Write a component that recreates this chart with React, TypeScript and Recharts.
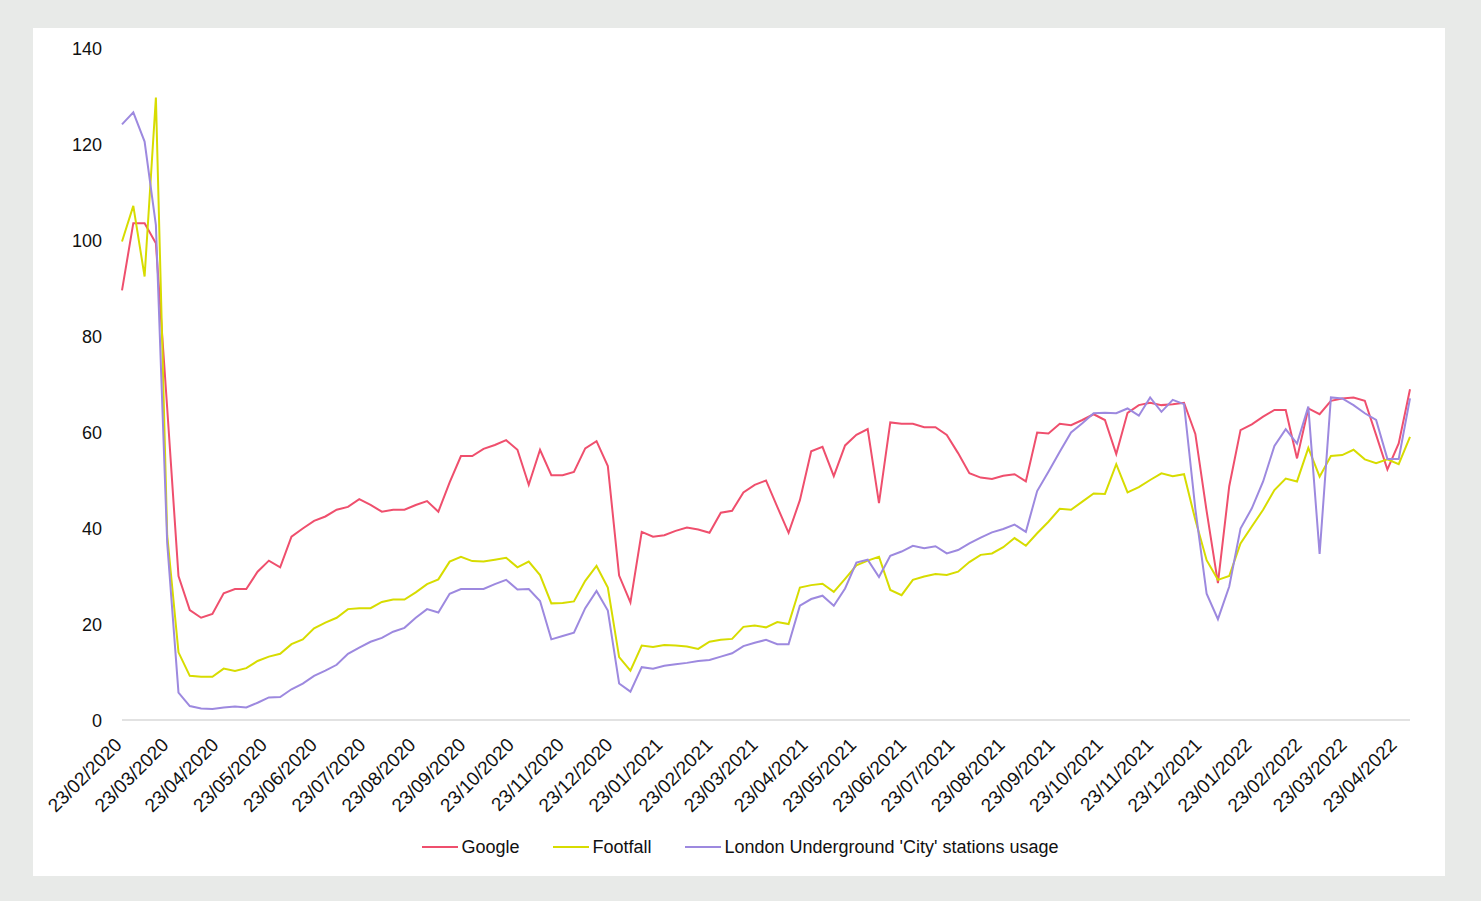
import React from 'react';
import { LineChart, Line, XAxis, YAxis, Legend } from 'recharts';

// Weekly series (one value per week, starting 23/02/2020)
const google = [
  89.5, 103.5, 103.5, 99.3, 65, 30, 22.9, 21.3, 22.1, 26.4,
  27.3, 27.3, 30.9, 33.2, 31.8, 38.2, 39.9, 41.5, 42.4, 43.8,
  44.4, 46.0, 44.8, 43.4, 43.8, 43.8, 44.8, 45.6, 43.4, 49.5,
  55.0, 55.0, 56.5, 57.3, 58.3, 56.3, 49.0, 56.3, 51.0, 51.0,
  51.7, 56.6, 58.1, 52.9, 30.1, 24.5, 39.2, 38.2, 38.5, 39.4,
  40.1, 39.7, 39.0, 43.2, 43.6, 47.4, 49.0, 49.9, 44.4, 39.0,
  45.8, 56.0, 56.9, 50.8, 57.2, 59.4, 60.6, 45.2, 62.0, 61.7,
  61.7, 61.0, 61.0, 59.4, 55.6, 51.4, 50.5, 50.2, 50.9, 51.2,
  49.7, 59.9, 59.7, 61.7, 61.4, 62.5, 63.7, 62.5, 55.4, 64.0,
  65.6, 66.1, 65.6, 65.8, 66.1, 59.6, 43.5, 28.5, 48.7, 60.4,
  61.6, 63.2, 64.6, 64.6, 54.5, 64.9, 63.7, 66.5, 67.0, 67.2,
  66.5, 59.4, 52.2, 57.6, 68.9,
];

const footfall = [
  99.7, 107.1, 92.4, 129.7, 38.5, 14.1, 9.2, 9.0, 9.0, 10.7,
  10.2, 10.8, 12.3, 13.2, 13.8, 15.8, 16.8, 19.1, 20.3, 21.3,
  23.1, 23.3, 23.3, 24.6, 25.1, 25.1, 26.6, 28.3, 29.3, 33.0,
  34.0, 33.1, 33.0, 33.4, 33.8, 31.8, 33.0, 30.2, 24.3, 24.4,
  24.7, 29.0, 32.1, 27.6, 13.1, 10.3, 15.5, 15.2, 15.6, 15.5,
  15.3, 14.8, 16.3, 16.7, 16.9, 19.4, 19.7, 19.3, 20.4, 20.0,
  27.6, 28.1, 28.4, 26.7, 29.4, 32.2, 33.2, 34.0, 27.1, 26.0,
  29.2, 29.9, 30.4, 30.2, 30.9, 32.9, 34.4, 34.7, 36.0, 37.9,
  36.3, 38.9, 41.3, 44.0, 43.8, 45.5, 47.2, 47.1, 53.3, 47.4,
  48.5, 50.0, 51.4, 50.8, 51.2, 41.7, 33.3, 29.2, 30.0, 36.8,
  40.3, 43.8, 47.9, 50.3, 49.7, 56.7, 50.7, 55.0, 55.2, 56.3,
  54.3, 53.5, 54.3, 53.3, 59.0,
];

const underground = [
  124.1, 126.6, 120.5, 103.1, 36.9, 5.7, 2.9, 2.4, 2.3, 2.6,
  2.8, 2.6, 3.6, 4.7, 4.8, 6.4, 7.6, 9.2, 10.3, 11.5,
  13.8, 15.1, 16.3, 17.1, 18.4, 19.2, 21.3, 23.1, 22.4, 26.3,
  27.3, 27.3, 27.3, 28.3, 29.2, 27.2, 27.3, 24.8, 16.8, 17.5,
  18.2, 23.3, 26.9, 22.8, 7.6, 5.9, 11.0, 10.7, 11.3, 11.6,
  11.9, 12.3, 12.5, 13.2, 13.9, 15.4, 16.1, 16.7, 15.8, 15.8,
  23.8, 25.2, 25.9, 23.8, 27.4, 32.8, 33.4, 29.8, 34.2, 35.1,
  36.3, 35.8, 36.2, 34.7, 35.4, 36.8, 38.0, 39.1, 39.8, 40.7,
  39.2, 47.7, 51.7, 55.9, 59.9, 61.8, 63.9, 64.0, 63.9, 64.9,
  63.4, 67.2, 64.2, 66.7, 65.8, 44.0, 26.3, 21.0, 27.8, 39.9,
  44.1, 49.7, 57.1, 60.6, 57.6, 65.3, 34.6, 67.2, 67.0, 65.6,
  63.9, 62.5, 54.4, 54.4, 67.0,
];

const startDate = '23/02/2020';
const tickLabels = [
  '23/02/2020', '23/03/2020', '23/04/2020', '23/05/2020', '23/06/2020', '23/07/2020',
  '23/08/2020', '23/09/2020', '23/10/2020', '23/11/2020', '23/12/2020', '23/01/2021',
  '23/02/2021', '23/03/2021', '23/04/2021', '23/05/2021', '23/06/2021', '23/07/2021',
  '23/08/2021', '23/09/2021', '23/10/2021', '23/11/2021', '23/12/2021', '23/01/2022',
  '23/02/2022', '23/03/2022', '23/04/2022',
];
const yTicks = [0, 20, 40, 60, 80, 100, 120, 140];

const seriesNames = ['Google', 'Footfall', "London Underground 'City' stations usage"];
const seriesColors = ['#ef4f6d', '#d7dc00', '#9d89df'];

const parseDate = (s: string) => {
  const [d, m, y] = s.split('/').map(Number);
  return Date.UTC(y, m - 1, d);
};
const WEEK = 7 * 24 * 3600 * 1000;
const start = parseDate(startDate);
const tickTimes = tickLabels.map(parseDate);

const data = google.map((g, i) => ({
  t: start + i * WEEK,
  google: g,
  footfall: footfall[i],
  underground: underground[i],
}));

const FONT = "'Liberation Sans', Arial, sans-serif";
const TEXT = '#111111';

const XTick = (props: any) => {
  const { x, y, payload } = props;
  const idx = tickTimes.indexOf(payload.value);
  const label = idx >= 0 ? tickLabels[idx] : '';
  return (
    <g transform={`translate(${x + 1},${y + 18})`}>
      <text x={0} y={0} textAnchor="end" transform="rotate(-45)" fontFamily={FONT} fontSize={19} fill={TEXT}>
        {label}
      </text>
    </g>
  );
};

const YTick = (props: any) => {
  const { x, y, payload } = props;
  return (
    <text x={x} y={y} dy={7} textAnchor="end" fontFamily={FONT} fontSize={18} fill={TEXT}>
      {payload.value}
    </text>
  );
};

const renderLegend = () => (
  <div style={{ display: 'flex', justifyContent: 'center', alignItems: 'center', fontFamily: FONT, fontSize: 18, color: TEXT, lineHeight: '22px' }}>
    {seriesNames.map((n, i) => (
      <div key={n} style={{ display: 'flex', alignItems: 'center', marginRight: i < seriesNames.length - 1 ? 34 : 0 }}>
        <span style={{ display: 'inline-block', width: 36, height: 2, background: seriesColors[i], marginRight: 3 }} />
        <span>{n}</span>
      </div>
    ))}
  </div>
);

export default function App() {
  return (
    <div style={{ position: 'absolute', left: 0, top: 0, width: 1481, height: 901, background: '#e8eae8' }}>
      <div style={{ position: 'absolute', left: 33, top: 28, width: 1412, height: 848, background: '#ffffff' }} />
      <div style={{ position: 'absolute', left: 0, top: 0 }}>
        <LineChart
          width={1481}
          height={901}
          data={data}
          margin={{ top: 48, right: 71, bottom: 81, left: 62 }}
        >
          <XAxis
            dataKey="t"
            type="number"
            scale="linear"
            domain={[start, start + (google.length - 1) * WEEK]}
            ticks={tickTimes}
            interval={0}
            tick={<XTick />}
            tickLine={false}
            axisLine={{ stroke: '#d9d9d9', strokeWidth: 1.5 }}
            height={100}
          />
          <YAxis
            domain={[0, 140]}
            ticks={yTicks}
            interval={0}
            axisLine={false}
            tickLine={false}
            tickSize={0}
            tickMargin={20}
            tick={<YTick />}
            width={60}
          />
          <Legend
            layout="horizontal"
            verticalAlign="middle"
            align="center"
            content={renderLegend}
            wrapperStyle={{ top: 836, left: 0, width: 1481 }}
          />
          <Line type="linear" dataKey="google" name={seriesNames[0]} stroke={seriesColors[0]} strokeWidth={2} dot={false} isAnimationActive={false} />
          <Line type="linear" dataKey="footfall" name={seriesNames[1]} stroke={seriesColors[1]} strokeWidth={2} dot={false} isAnimationActive={false} />
          <Line type="linear" dataKey="underground" name={seriesNames[2]} stroke={seriesColors[2]} strokeWidth={2} dot={false} isAnimationActive={false} />
        </LineChart>
      </div>
    </div>
  );
}
